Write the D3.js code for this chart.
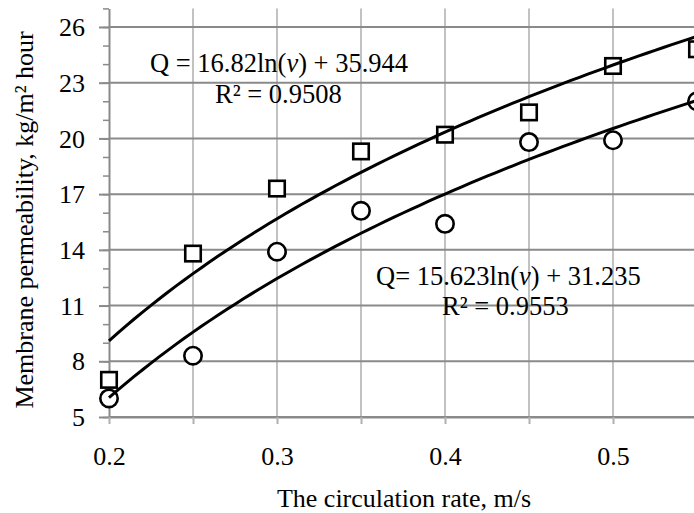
<!DOCTYPE html>
<html>
<head>
<meta charset="utf-8">
<script src="https://cdn.jsdelivr.net/npm/d3@7"></script>
<style>
  body { margin: 0; background: #fff; }
  svg { display: block; font-family: "Liberation Serif", "Times New Roman", serif; }
</style>
</head>
<body>
<svg id="chart" width="694" height="513"></svg>
<script>
// circulation rate, m/s
const rates = [0.2, 0.25, 0.3, 0.35, 0.4, 0.45, 0.5, 0.55];
// membrane permeability, square markers (upper series)
const upperQ = [7.0, 13.8, 17.3, 19.3, 20.2, 21.4, 23.9, 24.8];
// membrane permeability, circle markers (lower series)
const lowerQ = [6.0, 8.3, 13.9, 16.1, 15.4, 19.8, 19.9, 22.0];

const yTicks = [5, 8, 11, 14, 17, 20, 23, 26];
const yMinorTicks = d3.range(5, 28, 1);
const xTicks = [0.2, 0.25, 0.3, 0.35, 0.4, 0.45, 0.5, 0.55, 0.6];
const xLabels = [0.2, 0.3, 0.4, 0.5];

const upperEq = ['Q = 16.82ln(', 'v', ') + 35.944'];
const upperR2 = 'R² = 0.9508';
const lowerEq = ['Q= 15.623ln(', 'v', ') + 31.235'];
const lowerR2 = 'R² = 0.9553';

const svg = d3.select('#chart');
const W = 694;

const x = d3.scaleLinear().domain([0.2, 0.6]).range([109, 781]);
const y = d3.scaleLinear().domain([5, 27]).range([417, 8.4]);

// gridlines
svg.append('g')
  .selectAll('line')
  .data(xTicks.slice(1))
  .enter().append('line')
  .attr('x1', d => x(d)).attr('x2', d => x(d))
  .attr('y1', y(27)).attr('y2', y(5))
  .attr('stroke', '#c2c2c2').attr('stroke-width', 2);

svg.append('g')
  .selectAll('line')
  .data(yTicks)
  .enter().append('line')
  .attr('x1', x(0.2)).attr('x2', W)
  .attr('y1', d => y(d)).attr('y2', d => y(d))
  .attr('stroke', '#8a8a8a').attr('stroke-width', 2);

// y axis: minor ticks, then major ticks with labels
svg.append('g')
  .attr('transform', 'translate(' + x(0.2) + ',0)')
  .call(d3.axisLeft(y).tickValues(yMinorTicks).tickSize(6).tickSizeOuter(0).tickFormat(''))
  .call(g => g.select('.domain').attr('stroke', '#8a8a8a').attr('stroke-width', 2))
  .call(g => g.selectAll('.tick line').attr('stroke', '#8a8a8a').attr('stroke-width', 1.5));

svg.append('g')
  .attr('transform', 'translate(' + x(0.2) + ',0)')
  .call(d3.axisLeft(y).tickValues(yTicks).tickSize(10).tickSizeOuter(0).tickPadding(14))
  .attr('font-family', null).attr('font-size', null)
  .call(g => g.select('.domain').remove())
  .call(g => g.selectAll('.tick line').attr('stroke', '#8a8a8a').attr('stroke-width', 2))
  .call(g => g.selectAll('.tick text')
    .attr('fill', '#000').style('font-size', '26px').attr('dy', '0.33em'));

// x axis
svg.append('g')
  .attr('transform', 'translate(0,' + y(5) + ')')
  .call(d3.axisBottom(x).tickValues(xTicks).tickSize(7).tickSizeOuter(0)
    .tickFormat(d => xLabels.some(v => Math.abs(v - d) < 1e-9) ? d3.format('.1f')(d) : ''))
  .attr('font-family', null).attr('font-size', null)
  .call(g => g.select('.domain').attr('stroke', '#8a8a8a').attr('stroke-width', 2))
  .call(g => g.selectAll('.tick line').attr('stroke', '#b0b0b0').attr('stroke-width', 2))
  .call(g => g.selectAll('.tick text')
    .attr('fill', '#000').style('font-size', '26px').attr('dy', null).attr('y', 48));

// logarithmic least-squares trend
function logFit(xs, ys) {
  const lx = xs.map(Math.log);
  const mx = d3.mean(lx), my = d3.mean(ys);
  const b = d3.sum(lx, (v, i) => (v - mx) * (ys[i] - my)) / d3.sum(lx, v => (v - mx) * (v - mx));
  const a = my - b * mx;
  return v => a + b * Math.log(v);
}

const markers = svg.append('g');

markers.selectAll('rect')
  .data(rates.map((r, i) => [r, upperQ[i]]))
  .enter().append('rect')
  .attr('x', d => x(d[0]) - 7.75).attr('y', d => y(d[1]) - 7.75)
  .attr('width', 15.5).attr('height', 15.5)
  .attr('fill', '#fff').attr('stroke', '#000').attr('stroke-width', 2.6);

markers.selectAll('circle')
  .data(rates.map((r, i) => [r, lowerQ[i]]))
  .enter().append('circle')
  .attr('cx', d => x(d[0])).attr('cy', d => y(d[1]))
  .attr('r', 8.7)
  .attr('fill', '#fff').attr('stroke', '#000').attr('stroke-width', 2.6);

const vs = d3.range(0.2, 0.5501, 0.005);
const line = d3.line().x(d => x(d[0])).y(d => y(d[1]));
[upperQ, lowerQ].forEach(qs => {
  const f = logFit(rates, qs);
  svg.append('path')
    .attr('d', line(vs.map(v => [v, f(v)])))
    .attr('fill', 'none').attr('stroke', '#000').attr('stroke-width', 3);
});

// equation labels
function eqLabel(parts, r2, x0, y0, x1, y1) {
  const t = svg.append('text').attr('x', x0).attr('y', y0).style('font-size', '26.5px');
  t.append('tspan').text(parts[0]);
  t.append('tspan').style('font-style', 'italic').text(parts[1]);
  t.append('tspan').text(parts[2]);
  svg.append('text').attr('x', x1).attr('y', y1).style('font-size', '26.5px').text(r2);
}
eqLabel(upperEq, upperR2, 150, 72, 215, 103);
eqLabel(lowerEq, lowerR2, 376, 285, 442, 315);

// axis titles
svg.append('text')
  .attr('x', 404).attr('y', 507)
  .style('font-size', '26px').style('text-anchor', 'middle')
  .text('The circulation rate, m/s');

svg.append('text')
  .attr('transform', 'translate(33,220) rotate(-90)')
  .style('font-size', '26px').style('text-anchor', 'middle')
  .text('Membrane permeability, kg/m² hour');
</script>
</body>
</html>
